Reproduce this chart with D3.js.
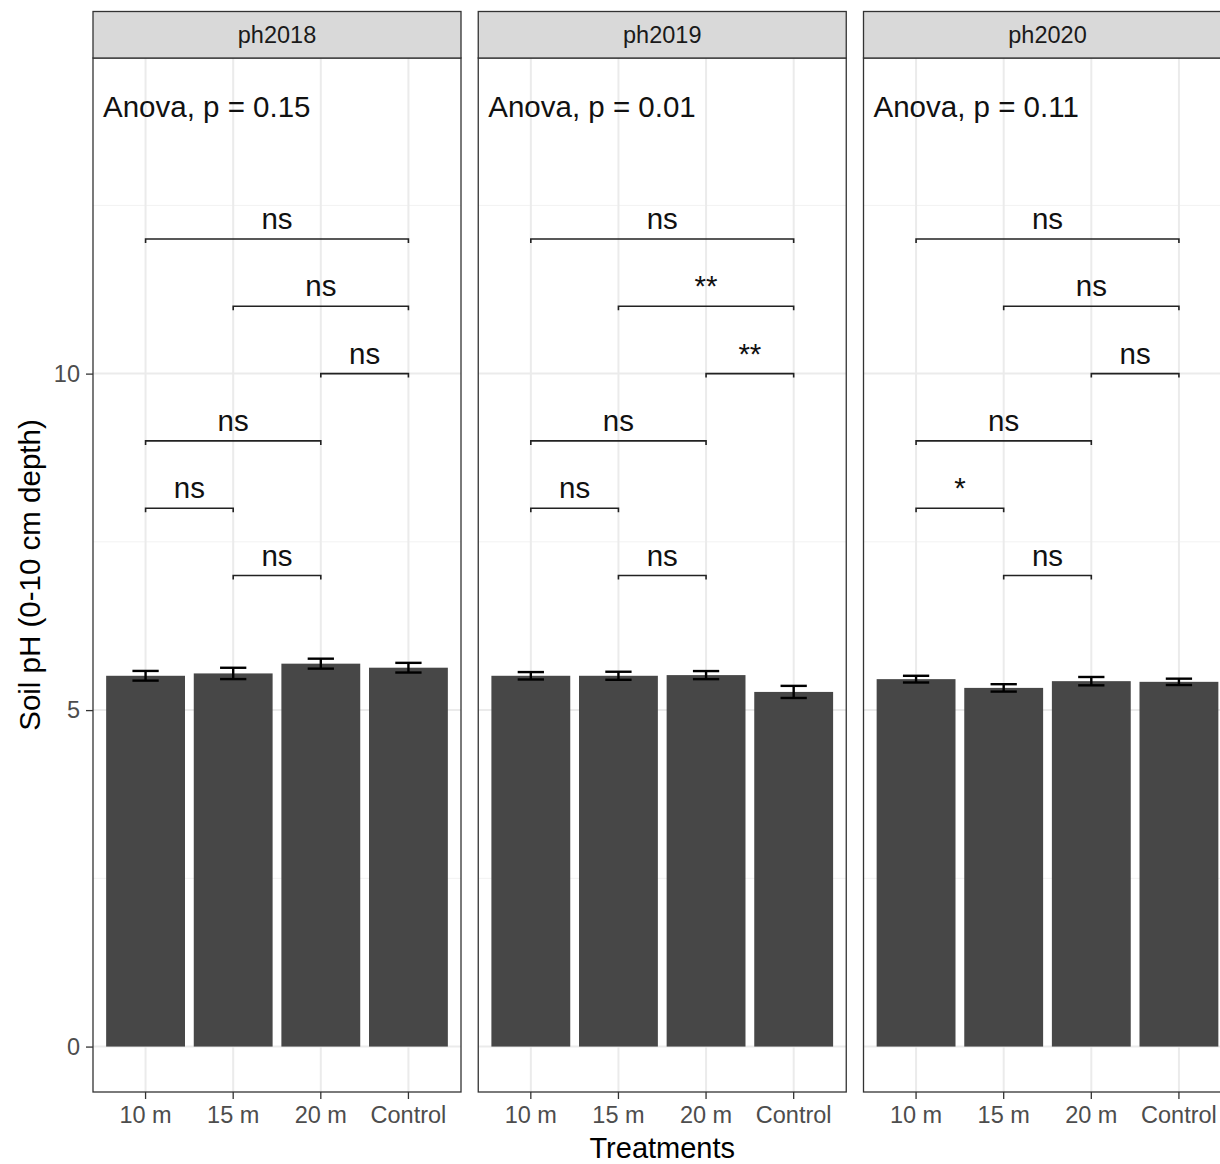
<!DOCTYPE html>
<html><head><meta charset="utf-8">
<script src="https://cdn.jsdelivr.net/npm/d3@7"></script>
<style>body{margin:0;background:#fff}svg{display:block}text{font-family:"Liberation Sans",Arial,sans-serif}</style>
</head><body>
<svg id="c" width="1220" height="1164"></svg>
<script>
const categories = ["10 m","15 m","20 m","Control"];
const facets = ["ph2018","ph2019","ph2020"];
const means = [
  [5.51, 5.545, 5.69, 5.63],
  [5.51, 5.51, 5.52, 5.27],
  [5.46, 5.33, 5.43, 5.42]
];
const ses = [
  [0.072, 0.084, 0.074, 0.072],
  [0.055, 0.06, 0.06, 0.09],
  [0.05, 0.055, 0.062, 0.047]
];
const anovaP = ["0.15","0.01","0.11"];
const pairs = [["10 m","Control"],["15 m","Control"],["20 m","Control"],["10 m","20 m"],["10 m","15 m"],["15 m","20 m"]];
const bracketY = [12, 11, 10, 9, 8, 7];
const signif = [
  ["ns","ns","ns","ns","ns","ns"],
  ["ns","**","**","ns","ns","ns"],
  ["ns","ns","ns","ns","*","ns"]
];
const yTicks = [0, 5, 10];
const yMinor = [2.5, 7.5, 12.5];

(function(){
const svg = d3.select("#c");
const panelW = 368, panelStep = 385.25, panelX0 = 93;
const pTop = 58, pBottom = 1092, stripTop = 11.5;
const y = d3.scaleLinear().domain([-0.675, 14.69]).range([pBottom, pTop]);
const x = d3.scaleBand().domain(categories).range([0, panelW]).paddingInner(0.1).paddingOuter(0.15);
const cx = c => x(c) + x.bandwidth()/2;
const step = x.step();
const axisCol = "#333333", tickTxt = "#4D4D4D";

facets.forEach((f, i) => {
  const g = svg.append("g").attr("transform", `translate(${panelX0 + i*panelStep},0)`);
  g.selectAll(".ymin").data(yMinor).join("line")
    .attr("x1",0).attr("x2",panelW).attr("y1",d=>y(d)).attr("y2",d=>y(d))
    .attr("stroke","#F2F2F2").attr("stroke-width",1);
  g.selectAll(".ymaj").data(yTicks).join("line")
    .attr("x1",0).attr("x2",panelW).attr("y1",d=>y(d)).attr("y2",d=>y(d))
    .attr("stroke","#EBEBEB").attr("stroke-width",2);
  g.selectAll(".xmaj").data(categories).join("line")
    .attr("x1",cx).attr("x2",cx).attr("y1",pTop).attr("y2",pBottom)
    .attr("stroke","#EBEBEB").attr("stroke-width",2);
  g.selectAll(".bar").data(categories).join("rect")
    .attr("x",d=>x(d)).attr("width",x.bandwidth())
    .attr("y",(d,j)=>y(means[i][j])).attr("height",(d,j)=>y(0)-y(means[i][j]))
    .attr("fill","#474747");
  const ew = 0.3*step/2;
  categories.forEach((c,j)=>{
    const m = means[i][j], s = ses[i][j];
    const eg = g.append("g").attr("stroke","#000").attr("stroke-width",2.4).attr("fill","none");
    eg.append("line").attr("x1",cx(c)).attr("x2",cx(c)).attr("y1",y(m-s)).attr("y2",y(m+s));
    eg.append("line").attr("x1",cx(c)-ew).attr("x2",cx(c)+ew).attr("y1",y(m-s)).attr("y2",y(m-s));
    eg.append("line").attr("x1",cx(c)-ew).attr("x2",cx(c)+ew).attr("y1",y(m+s)).attr("y2",y(m+s));
  });
  pairs.forEach((p,k)=>{
    const x1 = cx(p[0]), x2 = cx(p[1]), yy = y(bracketY[k]);
    g.append("path").attr("d",`M${x1},${yy+4}V${yy}H${x2}V${yy+4}`)
      .attr("fill","none").attr("stroke","#222").attr("stroke-width",1.6);
    g.append("text").attr("x",(x1+x2)/2).attr("y",yy-10).attr("text-anchor","middle")
      .attr("font-size",29.5).attr("fill","#111").text(signif[i][k]);
  });
  g.append("text").attr("x",10).attr("y",y(13.82)).attr("font-size",29.5).attr("fill","#111")
    .text(`Anova, p = ${anovaP[i]}`);
  g.append("rect").attr("x",0).attr("y",pTop).attr("width",panelW).attr("height",pBottom-pTop)
    .attr("fill","none").attr("stroke",axisCol).attr("stroke-width",1.3);
  g.append("rect").attr("x",0).attr("y",stripTop).attr("width",panelW).attr("height",pTop-stripTop)
    .attr("fill","#D9D9D9").attr("stroke",axisCol).attr("stroke-width",1.3);
  g.append("text").attr("x",panelW/2).attr("y",(stripTop+pTop)/2).attr("dy","0.35em")
    .attr("text-anchor","middle").attr("font-size",23.5).attr("fill","#1A1A1A").text(f);
  const xa = g.append("g").attr("transform",`translate(0,${pBottom})`)
    .call(d3.axisBottom(x).tickSize(7).tickPadding(7));
  xa.select(".domain").remove();
  xa.selectAll(".tick line").attr("stroke",axisCol).attr("stroke-width",1.3);
  xa.selectAll(".tick text").attr("font-size",23.5).attr("fill",tickTxt)
    .attr("font-family","Liberation Sans, Arial, sans-serif");
});

const ya = svg.append("g").attr("transform",`translate(${panelX0},0)`)
  .call(d3.axisLeft(y).tickValues(yTicks).tickSize(7).tickPadding(6));
ya.select(".domain").remove();
ya.selectAll(".tick line").attr("stroke",axisCol).attr("stroke-width",1.3);
ya.selectAll(".tick text").attr("font-size",23.5).attr("fill",tickTxt)
  .attr("font-family","Liberation Sans, Arial, sans-serif");

svg.append("text").attr("x",panelX0 + (panelStep*2+panelW)/2).attr("y",1158)
  .attr("text-anchor","middle").attr("font-size",29).attr("fill","#000").text("Treatments");
svg.append("text").attr("transform",`translate(40,${(pTop+pBottom)/2}) rotate(-90)`)
  .attr("text-anchor","middle").attr("font-size",29.5).attr("fill","#000").text("Soil pH (0-10 cm depth)");
})();
</script>
</body></html>
